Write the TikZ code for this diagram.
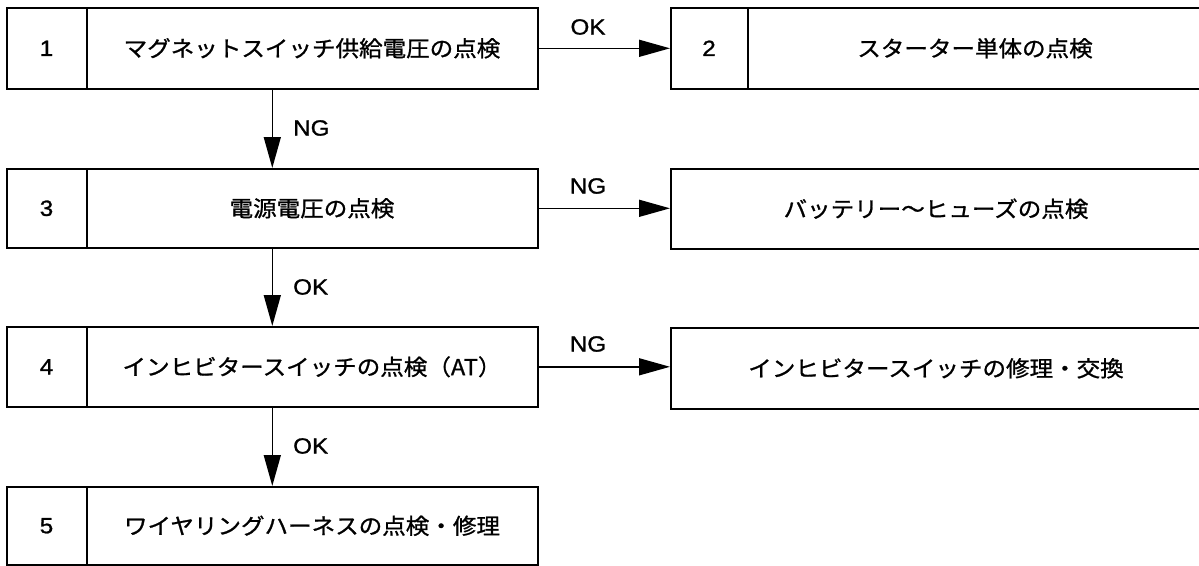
\documentclass[tikz,border=0pt]{standalone}
\usepackage{fontspec}
\setmainfont{Liberation Sans}[FakeStretch=1.1, FakeBold=1.2]
\newfontfamily\jp{Noto Sans CJK JP}[FakeStretch=1.07, FakeBold=1.0]
\usetikzlibrary{arrows.meta}
\begin{document}
\begin{tikzpicture}[x=1pt,y=-1pt,
  box/.style={draw=black, line width=1.6pt, rectangle, inner sep=0pt, anchor=north west},
  numtxt/.style={font=\fontsize{22}{26}\selectfont, inner sep=0pt},
  jptxt/.style={font=\fontsize{22}{26}\selectfont\jp, inner sep=0pt},
  lbl/.style={font=\fontsize{22}{26}\selectfont, inner sep=0pt},
  divider/.style={draw=black, line width=1.2pt},
  arr/.style={draw=black, line width=1.5pt, -{Triangle[length=31pt,width=17pt]}}
]
\useasboundingbox (0,0) rectangle (1199,565);
\clip (0,0) rectangle (1199,565);
\fill[white] (0,0) rectangle (1199,565);

% left column boxes
\node[box, minimum width=531pt, minimum height=81pt] (b1) at (6,7) {};
\node[box, minimum width=531pt, minimum height=79pt] (b3) at (6,168) {};
\node[box, minimum width=531pt, minimum height=80pt] (b4) at (6,326) {};
\node[box, minimum width=531pt, minimum height=78pt] (b5) at (6,486) {};

% right column boxes (right edge beyond page)
\node[box, minimum width=533pt, minimum height=81pt] (b2) at (670,7) {};
\node[box, minimum width=533pt, minimum height=80pt] (r3) at (670,168) {};
\node[box, minimum width=533pt, minimum height=81pt] (r4) at (670,327) {};

% dividers
\foreach \b in {b1,b3,b4,b5}{
  \draw[divider] ([xshift=81pt]\b.north west) -- ([xshift=81pt]\b.south west);
}
\draw[divider] ([xshift=78pt]b2.north west) -- ([xshift=78pt]b2.south west);

% numbers
\node[numtxt] (n1) at ([xshift=40.5pt]b1.west) {1};
\node[numtxt] (n3) at ([xshift=40.5pt]b3.west) {3};
\node[numtxt] (n4) at ([xshift=40.5pt]b4.west) {4};
\node[numtxt] (n5) at ([xshift=40.5pt]b5.west) {5};
\node[numtxt] (n2) at ([xshift=39pt]b2.west) {2};

% texts
\node[jptxt] (t1) at ([xshift=306pt]b1.west) {マグネットスイッチ供給電圧の点検};
\node[jptxt] (t3) at ([xshift=306pt]b3.west) {電源電圧の点検};
\node[jptxt] (t4) at ([xshift=306pt]b4.west) {インヒビタースイッチの点検（AT）};
\node[jptxt] (t5) at ([xshift=306pt]b5.west) {ワイヤリングハーネスの点検・修理};
\node[jptxt] (t2) at ([xshift=305pt]b2.west) {スターター単体の点検};
\node[jptxt] (tr3) at ([xshift=266pt]r3.west) {バッテリー〜ヒューズの点検};
\node[jptxt] (tr4) at ([xshift=266pt]r4.west) {インヒビタースイッチの修理・交換};

% connectors
\draw[arr] (b1.east) -- (b1.east -| b2.west);
\draw[arr] (b3.east) -- (b3.east -| r3.west);
\draw[arr] (b4.east) -- (b4.east -| r4.west);
\draw[arr] (b1.south) -- (b3.north);
\draw[arr] (b3.south) -- (b4.north);
\draw[arr] (b4.south) -- (b5.north);

% labels
\node[lbl] (l12) at (588,27) {OK};
\node[lbl] (l3r) at (588,186) {NG};
\node[lbl] (l4r) at (588,344) {NG};
\node[lbl, anchor=west] (l13) at (293,128) {NG};
\node[lbl, anchor=west] (l34) at (293,287) {OK};
\node[lbl, anchor=west] (l45) at (293,446) {OK};
\end{tikzpicture}
\end{document}
